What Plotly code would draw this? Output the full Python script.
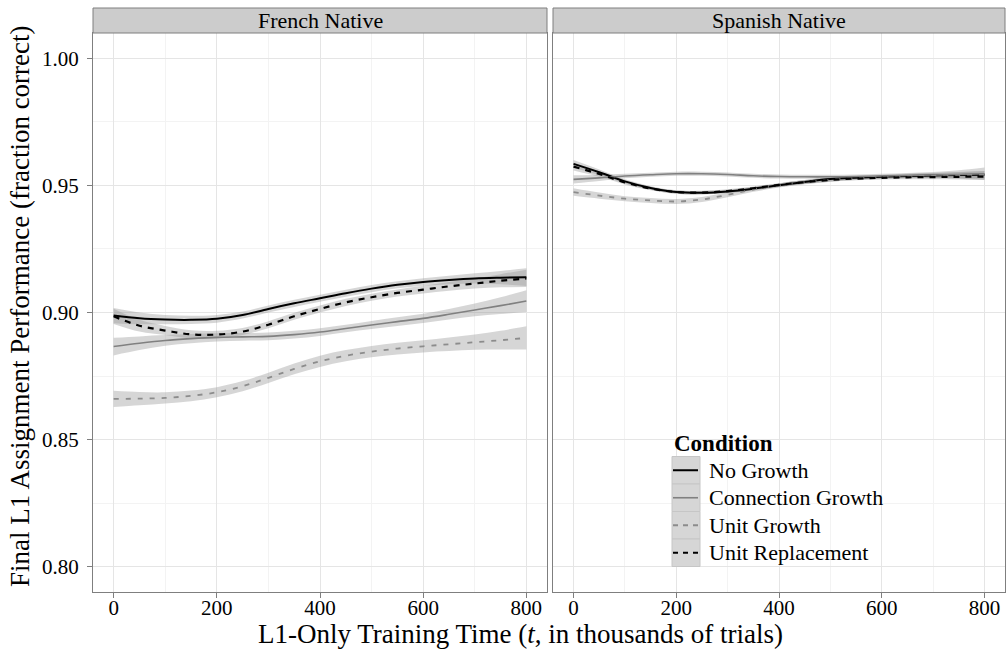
import plotly.graph_objects as go

# Training time grid (thousands of trials)
t = [0, 50, 100, 150, 200, 250, 300, 350, 400, 450, 500, 550, 600, 650, 700, 750, 800]

conditions = ["No Growth", "Connection Growth", "Unit Growth", "Unit Replacement"]

# French Native: smoothed fits and CI half-widths
fr_no_growth = [0.8988, 0.8977, 0.8972, 0.8971, 0.8975, 0.8990, 0.9014, 0.9036, 0.9056,
                0.9076, 0.9094, 0.9109, 0.9120, 0.9128, 0.9134, 0.9137, 0.9139]
fr_conn_growth = [0.8866, 0.8879, 0.8890, 0.8897, 0.8902, 0.8904, 0.8906, 0.8913, 0.8923,
                  0.8937, 0.8951, 0.8964, 0.8977, 0.8993, 0.9010, 0.9027, 0.9045]
fr_unit_growth = [0.8660, 0.8661, 0.8664, 0.8672, 0.8686, 0.8710, 0.8743, 0.8778, 0.8808,
                  0.8830, 0.8846, 0.8858, 0.8867, 0.8875, 0.8883, 0.8891, 0.8900]
fr_unit_repl = [0.8985, 0.8948, 0.8929, 0.8914, 0.8913, 0.8925, 0.8952, 0.8985, 0.9014,
                0.9040, 0.9060, 0.9077, 0.9090, 0.9103, 0.9114, 0.9125, 0.9134]

fr_no_growth_se = [0.0030, 0.0023, 0.0018, 0.0016, 0.0015, 0.0014, 0.0014, 0.0014, 0.0014,
                   0.0014, 0.0014, 0.0014, 0.0015, 0.0017, 0.0020, 0.0026, 0.0035]
fr_conn_growth_se = [0.0035, 0.0027, 0.0021, 0.0018, 0.0016, 0.0015, 0.0015, 0.0015, 0.0015,
                     0.0015, 0.0016, 0.0017, 0.0018, 0.0021, 0.0025, 0.0033, 0.0043]
fr_unit_growth_se = [0.0032, 0.0026, 0.0022, 0.0021, 0.0020, 0.0020, 0.0020, 0.0021, 0.0022,
                     0.0022, 0.0022, 0.0023, 0.0024, 0.0027, 0.0030, 0.0037, 0.0046]
fr_unit_repl_se = [0.0030, 0.0023, 0.0018, 0.0016, 0.0015, 0.0014, 0.0014, 0.0014, 0.0014,
                   0.0014, 0.0014, 0.0014, 0.0015, 0.0017, 0.0020, 0.0026, 0.0034]

# Spanish Native: smoothed fits and CI half-widths
es_no_growth = [0.9585, 0.9552, 0.9516, 0.9490, 0.9474, 0.9471, 0.9476, 0.9487, 0.9501,
                0.9514, 0.9525, 0.9530, 0.9534, 0.9537, 0.9539, 0.9541, 0.9542]
es_conn_growth = [0.9524, 0.9530, 0.9537, 0.9542, 0.9546, 0.9546, 0.9543, 0.9538, 0.9535,
                  0.9534, 0.9534, 0.9535, 0.9537, 0.9539, 0.9541, 0.9543, 0.9546]
es_unit_growth = [0.9474, 0.9460, 0.9448, 0.9441, 0.9437, 0.9445, 0.9463, 0.9484, 0.9500,
                  0.9513, 0.9523, 0.9529, 0.9533, 0.9537, 0.9539, 0.9541, 0.9542]
es_unit_repl = [0.9574, 0.9545, 0.9512, 0.9488, 0.9474, 0.9472, 0.9478, 0.9489, 0.9502,
                0.9513, 0.9522, 0.9527, 0.9530, 0.9532, 0.9533, 0.9534, 0.9535]

es_no_growth_se = [0.0015, 0.0011, 0.0008, 0.0007, 0.0007, 0.0007, 0.0007, 0.0007, 0.0007,
                   0.0007, 0.0007, 0.0007, 0.0007, 0.0008, 0.0009, 0.0011, 0.0014]
es_conn_growth_se = [0.0016, 0.0012, 0.0009, 0.0008, 0.0008, 0.0008, 0.0008, 0.0008, 0.0008,
                     0.0008, 0.0008, 0.0008, 0.0009, 0.0010, 0.0012, 0.0017, 0.0025]
es_unit_growth_se = [0.0015, 0.0012, 0.0010, 0.0010, 0.0010, 0.0010, 0.0009, 0.0009, 0.0008,
                     0.0008, 0.0008, 0.0008, 0.0008, 0.0009, 0.0010, 0.0012, 0.0015]
es_unit_repl_se = [0.0015, 0.0011, 0.0008, 0.0007, 0.0007, 0.0007, 0.0007, 0.0007, 0.0007,
                   0.0007, 0.0007, 0.0007, 0.0007, 0.0008, 0.0009, 0.0011, 0.0014]

x_ticks = [0, 200, 400, 600, 800]
y_ticks = [0.80, 0.85, 0.90, 0.95, 1.00]
y_tick_text = ["0.80", "0.85", "0.90", "0.95", "1.00"]
facets = ["French Native", "Spanish Native"]

W, H = 1006, 650
FONT = "Liberation Serif, Times New Roman, serif"
GREY50 = "#7F7F7F"
RIBBON = "rgba(153,153,153,0.4)"

styles = {
    "No Growth": dict(color="black", width=2.0, dash="solid"),
    "Connection Growth": dict(color="#808080", width=1.6, dash="solid"),
    "Unit Growth": dict(color="#8C8C8C", width=1.8, dash="5px,7px"),
    "Unit Replacement": dict(color="black", width=2.2, dash="6px,6px"),
}

panels = [
    ("x", "y", [fr_no_growth, fr_conn_growth, fr_unit_growth, fr_unit_repl],
     [fr_no_growth_se, fr_conn_growth_se, fr_unit_growth_se, fr_unit_repl_se]),
    ("x2", "y2", [es_no_growth, es_conn_growth, es_unit_growth, es_unit_repl],
     [es_no_growth_se, es_conn_growth_se, es_unit_growth_se, es_unit_repl_se]),
]

fig = go.Figure()

for xa, ya, fits, ses in panels:
    # confidence ribbons first, then the fitted curves on top
    for fit, se in zip(fits, ses):
        lo = [v - s for v, s in zip(fit, se)]
        hi = [v + s for v, s in zip(fit, se)]
        fig.add_trace(go.Scatter(x=t, y=lo, xaxis=xa, yaxis=ya, mode="lines",
                                 line=dict(width=0, shape="spline"), hoverinfo="skip",
                                 showlegend=False))
        fig.add_trace(go.Scatter(x=t, y=hi, xaxis=xa, yaxis=ya, mode="lines",
                                 line=dict(width=0, shape="spline"), fill="tonexty",
                                 fillcolor=RIBBON, hoverinfo="skip", showlegend=False))
    for name, fit in zip(conditions, fits):
        st = styles[name]
        fig.add_trace(go.Scatter(x=t, y=fit, xaxis=xa, yaxis=ya, mode="lines", name=name,
                                 line=dict(color=st["color"], width=st["width"],
                                           dash=st["dash"], shape="spline"),
                                 showlegend=False))


def px(x):
    return x / W


def py(y):
    return 1 - y / H


panel_x = [(93, 547), (553, 1005)]
panel_top, panel_bot = 33, 592
strip_top = 8

axis_common = dict(
    showline=True, linecolor=GREY50, linewidth=1, mirror=True,
    showgrid=True, gridcolor="#E5E5E5", gridwidth=1, zeroline=False,
    ticks="outside", ticklen=5, tickcolor=GREY50, tickwidth=1,
    tickfont=dict(family=FONT, size=21, color="black"),
)

minor_x = dict(tickvals=[100, 300, 500, 700], showgrid=True, gridcolor="#F3F3F3", ticks="")
minor_y = dict(tickvals=[0.825, 0.875, 0.925, 0.975], showgrid=True, gridcolor="#F3F3F3",
               ticks="")

fig.update_layout(
    width=W, height=H,
    margin=dict(l=0, r=0, t=0, b=0),
    paper_bgcolor="white", plot_bgcolor="white",
    showlegend=False,
    xaxis=dict(domain=[px(panel_x[0][0]), px(panel_x[0][1])], range=[-40, 840],
               tickvals=x_ticks, ticklabelstandoff=-8, minor=minor_x,
               anchor="y", **axis_common),
    xaxis2=dict(domain=[px(panel_x[1][0]), px(panel_x[1][1])], range=[-40, 840],
                tickvals=x_ticks, ticklabelstandoff=-8, minor=minor_x,
                anchor="y2", **axis_common),
    yaxis=dict(domain=[py(panel_bot), py(panel_top)], range=[0.79, 1.01],
               tickvals=y_ticks, ticktext=y_tick_text, ticklabelstandoff=4,
               minor=minor_y, anchor="x", **axis_common),
    yaxis2=dict(domain=[py(panel_bot), py(panel_top)], range=[0.79, 1.01],
                tickvals=y_ticks, showticklabels=False, minor=minor_y,
                anchor="x2", **{**axis_common, "ticks": ""}),
)

shapes = []
annotations = []

# facet strips
for (x0, x1), label in zip(panel_x, facets):
    shapes.append(dict(type="rect", xref="paper", yref="paper",
                       x0=px(x0), x1=px(x1), y0=py(panel_top), y1=py(strip_top),
                       fillcolor="#CCCCCC", line=dict(color=GREY50, width=1), layer="above"))
    annotations.append(dict(xref="paper", yref="paper", x=px((x0 + x1) / 2),
                            y=py((strip_top + panel_top) / 2), text=label, showarrow=False,
                            xanchor="center", yanchor="middle",
                            font=dict(family=FONT, size=22, color="black")))

# axis titles
annotations.append(dict(xref="paper", yref="paper", x=px(520), y=py(634),
                        text="L1-Only Training Time (<i>t</i>, in thousands of trials)",
                        showarrow=False, xanchor="center", yanchor="middle",
                        font=dict(family=FONT, size=27, color="black")))
annotations.append(dict(xref="paper", yref="paper", x=px(20), y=py(306),
                        text="Final L1 Assignment Performance (fraction correct)",
                        showarrow=False, textangle=-90, xanchor="center", yanchor="middle",
                        font=dict(family=FONT, size=27, color="black")))

# legend drawn inside the right-hand panel
key_x0, key_x1 = 672, 700
row_h = 27.5
rows_top = 456.5
annotations.append(dict(xref="paper", yref="paper", x=px(672), y=py(443),
                        text="<b>Condition</b>", showarrow=False,
                        xanchor="left", yanchor="middle",
                        font=dict(family=FONT, size=23, color="black")))
for i, name in enumerate(conditions):
    top = rows_top + i * row_h
    mid = top + row_h / 2
    st = styles[name]
    shapes.append(dict(type="rect", xref="paper", yref="paper",
                       x0=px(key_x0), x1=px(key_x1), y0=py(top + row_h), y1=py(top),
                       fillcolor="#D6D6D6", line=dict(color="#C6C6C6", width=1),
                       layer="above"))
    shapes.append(dict(type="line", xref="paper", yref="paper",
                       x0=px(key_x0 + 1), x1=px(key_x1 - 2), y0=py(mid), y1=py(mid),
                       line=dict(color=st["color"], width=st["width"],
                                 dash="solid" if st["dash"] == "solid" else "5px,5px"),
                       layer="above"))
    annotations.append(dict(xref="paper", yref="paper", x=px(707), y=py(mid),
                            text=name, showarrow=False, xanchor="left", yanchor="middle",
                            font=dict(family=FONT, size=22, color="black")))

fig.update_layout(shapes=shapes, annotations=annotations)

fig.write_html("out.html")
